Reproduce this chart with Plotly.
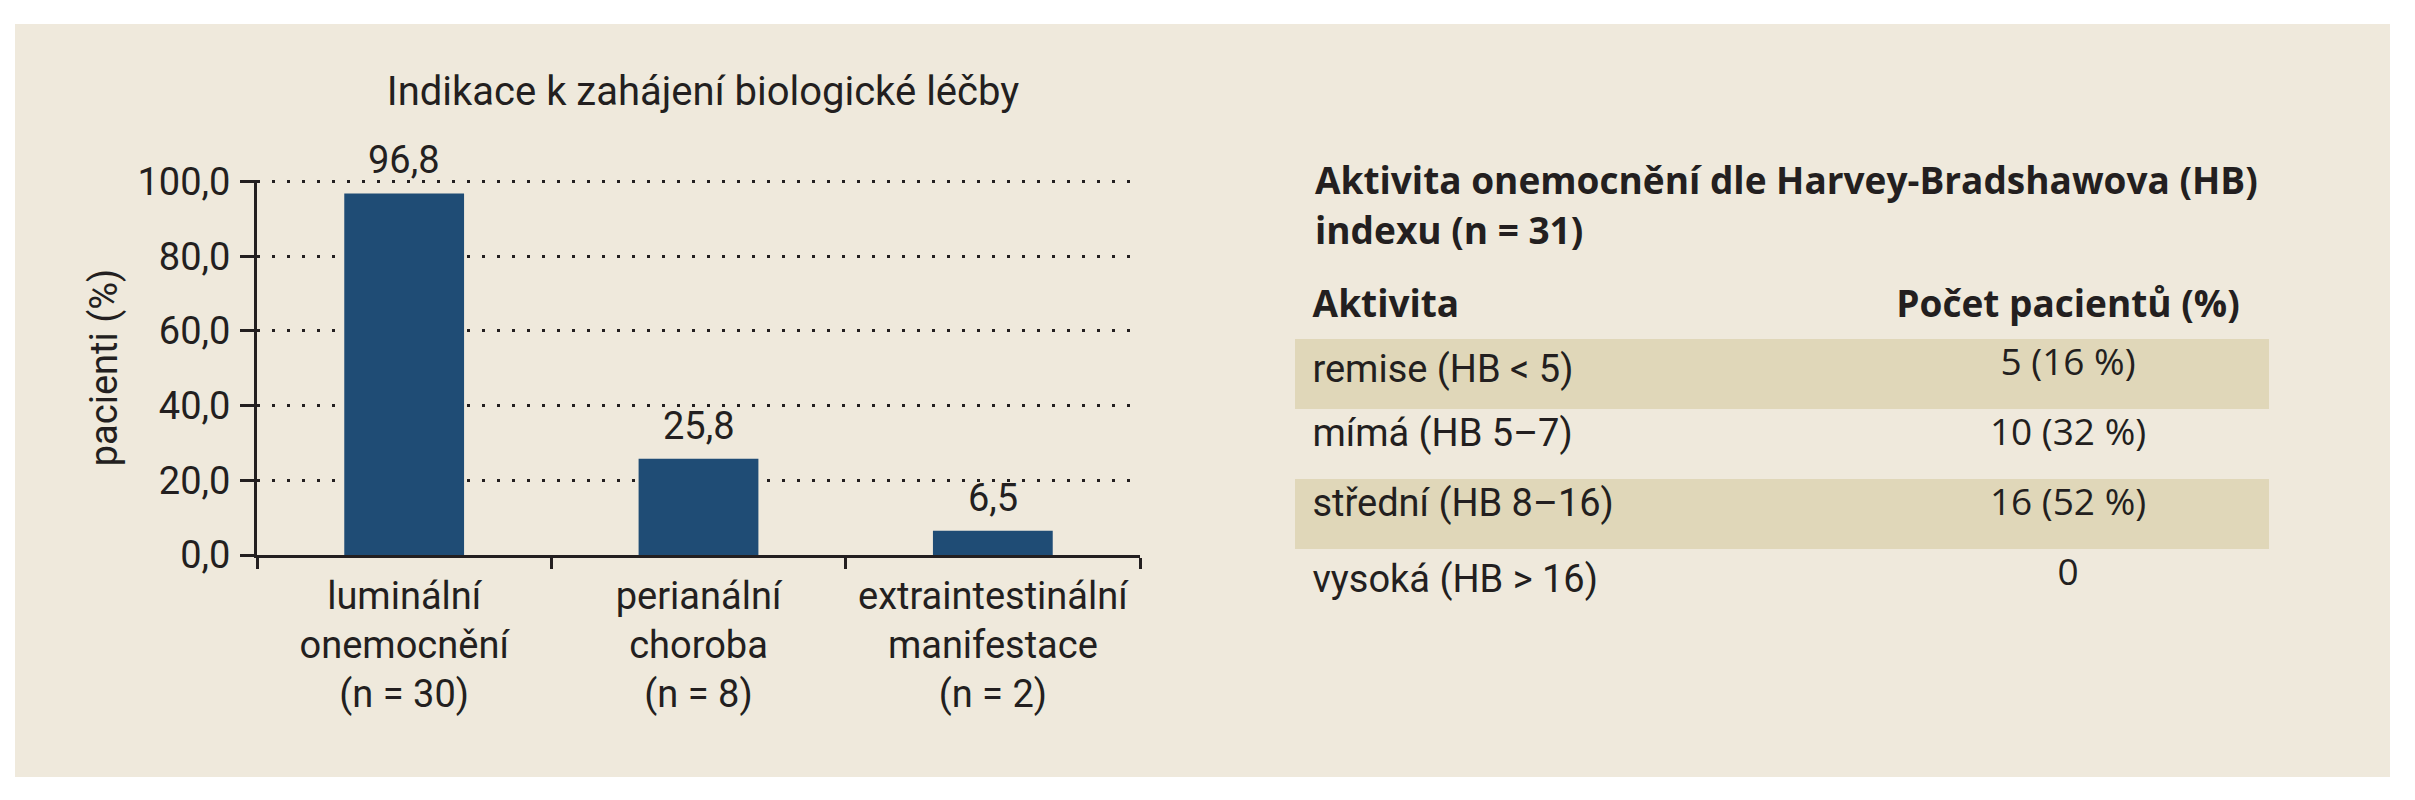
import plotly.graph_objects as go

# ---------------- data ----------------
chart_title = "Indikace k zahájení biologické léčby"
categories = ["luminální<br>onemocnění<br>(n = 30)",
              "perianální<br>choroba<br>(n = 8)",
              "extraintestinální<br>manifestace<br>(n = 2)"]
values = [96.8, 25.8, 6.5]
y_ticks = [0, 20, 40, 60, 80, 100]
y_title = "pacienti (%)"

table_title_lines = ["Aktivita onemocnění dle Harvey-Bradshawova (HB)", "indexu (n = 31)"]
table_header = ["Aktivita", "Počet pacientů (%)"]
activity = ["remise (HB < 5)", "mímá (HB 5–7)", "střední (HB 8–16)", "vysoká (HB > 16)"]
counts = ["5 (16 %)", "10 (32 %)", "16 (52 %)", "0"]

# ---------------- style ----------------
W, H = 2415, 800
FONT = "Roboto, Lato, sans-serif"
FONT_W = "Open Sans, Roboto, sans-serif"
TXT = "#231F20"
BG = "#EFE9DC"
BAND = "#E0D7B9"
BAR = "#1F4C75"
FS = 38
FSB = 37
NB = "\u00a0"


def px_x(p):
    return p / W


def px_y(p):
    return 1 - p / H


bar_text = [f"{v:.1f}".replace(".", ",") for v in values]

fig = go.Figure()
fig.add_trace(go.Bar(
    x=categories, y=values, marker=dict(color=BAR, line=dict(width=0)),
    hoverinfo="skip", showlegend=False, cliponaxis=False,
))

for cat, v, lab in zip(categories, values, bar_text):
    fig.add_annotation(x=cat, y=v, xref="x", yref="y", text=lab, showarrow=False,
                       yanchor="bottom", yshift=9,
                       font=dict(family=FONT, size=FS, color=TXT))

row_fill = [BAND if i % 2 == 0 else "rgba(0,0,0,0)" for i in range(len(activity))]
fig.add_trace(go.Table(
    domain=dict(x=[px_x(1295), px_x(2269)], y=[px_y(623), px_y(269)]),
    columnwidth=[572, 402],
    header=dict(values=[f"<b>{NB}{table_header[0]}</b>", f"<b>{table_header[1]}</b>"],
                align=["left", "center"], height=70,
                fill=dict(color="rgba(0,0,0,0)"),
                line=dict(width=0, color="rgba(0,0,0,0)"),
                font=dict(family=FONT_W, size=FSB, color=TXT)),
    cells=dict(values=[[NB + a for a in activity], counts], align=["left", "center"], height=70,
               fill=dict(color=[row_fill, row_fill]),
               line=dict(width=0, color="rgba(0,0,0,0)"),
               font=dict(family=[FONT, FONT_W], size=[FS, FSB], color=TXT)),
))

fig.add_shape(type="rect", xref="paper", yref="paper",
              x0=px_x(15), x1=px_x(2390), y0=px_y(777), y1=px_y(24),
              fillcolor=BG, line=dict(width=0), layer="below")

for line, yc in zip(table_title_lines, [180, 229]):
    fig.add_annotation(text=f"<b>{line}</b>", xref="paper", yref="paper",
                       x=px_x(1313), y=px_y(yc), xanchor="left", yanchor="middle",
                       align="left", showarrow=False,
                       font=dict(family=FONT_W, size=FSB, color=TXT))

fig.update_layout(
    width=W, height=H, autosize=False,
    margin=dict(l=0, r=0, t=0, b=0, pad=0, autoexpand=False),
    paper_bgcolor="white", plot_bgcolor="rgba(0,0,0,0)",
    separators=",.",
    font=dict(family=FONT, size=FS, color=TXT),
    bargap=0.593,
    title=dict(text=chart_title, x=px_x(703), y=px_y(91), xref="paper", yref="paper",
               xanchor="center", yanchor="middle", automargin=False,
               font=dict(family=FONT, size=40, color=TXT)),
    xaxis=dict(domain=[px_x(257), px_x(1140)], showline=True, linecolor=TXT, linewidth=3,
               ticks="outside", tickson="boundaries", ticklen=11, tickwidth=3, tickcolor=TXT,
               showgrid=False, automargin=False,
               tickfont=dict(family=FONT, size=FS, color=TXT),
               ticklabelstandoff=5),
    yaxis=dict(domain=[px_y(555), px_y(180)], range=[0, 100.4], tickvals=y_ticks,
               tickformat=".1f", showline=True, linecolor=TXT, linewidth=3,
               ticks="outside", ticklen=14, tickwidth=3, tickcolor=TXT,
               showgrid=True, gridcolor=TXT, gridwidth=3, griddash="3px,12px",
               zeroline=False, ticklabelstandoff=2, automargin=False,
               tickfont=dict(family=FONT, size=FS, color=TXT),
               title=dict(text=y_title, standoff=9, font=dict(family=FONT, size=FS, color=TXT))),
)

fig.write_html("out.html", config={"displayModeBar": False},
               post_script="document.body.style.margin='0';document.body.style.padding='0';"
                           "document.body.style.overflow='hidden';")
